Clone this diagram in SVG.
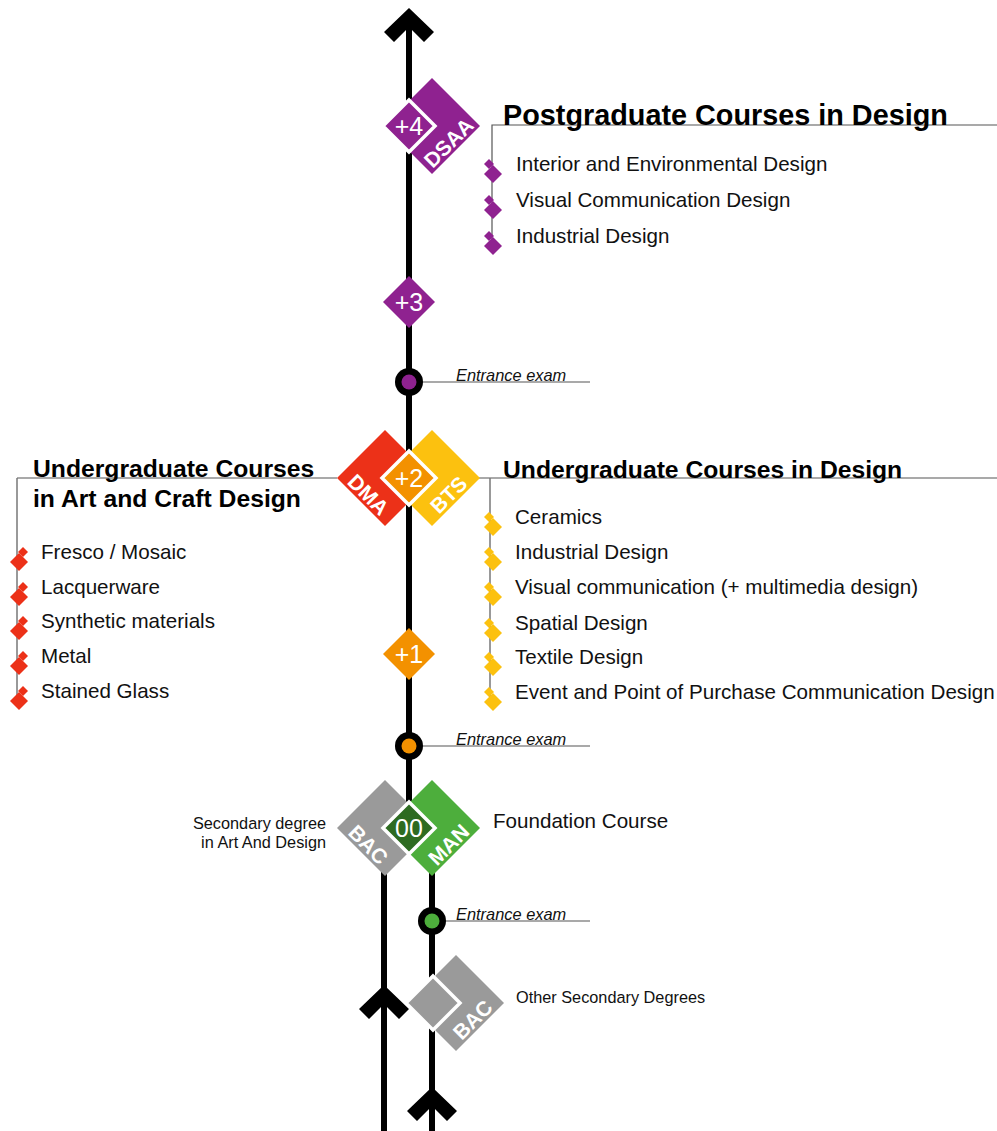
<svg xmlns="http://www.w3.org/2000/svg" xmlns:xlink="http://www.w3.org/1999/xlink" width="997" height="1131" viewBox="0 0 997 1131">
<style>
.rail{stroke:#000;stroke-width:6;fill:none}
.thin{stroke:#555;stroke-width:1.2;fill:none}
.lead{stroke:#777;stroke-width:1.5;fill:none}
.small{stroke:#fff;stroke-width:3.5}
.num{font-family:"Liberation Sans",Arial,sans-serif;font-size:25px;fill:#fff;text-anchor:middle}
.tag{font-family:"Liberation Sans",Arial,sans-serif;font-size:21px;font-weight:bold;fill:#fff;text-anchor:middle}
.h1{font-family:"Liberation Sans",Arial,sans-serif;font-size:28.8px;font-weight:bold;fill:#000}
.h2{font-family:"Liberation Sans",Arial,sans-serif;font-size:24.7px;font-weight:bold;fill:#000}
.item{font-family:"Liberation Sans",Arial,sans-serif;font-size:20.6px;fill:#111}
.lab{font-family:"Liberation Sans",Arial,sans-serif;font-size:16.3px;fill:#111}
.exam{font-family:"Liberation Sans",Arial,sans-serif;font-size:16.4px;font-style:italic;fill:#111}
.purple{fill:#8f2290}.red{fill:#ec3118}.yellow{fill:#fcc10f}.orange{fill:#f39100}.grey{fill:#9a9a9a}.green{fill:#4dae3c}.dgreen{fill:#2e6b21}
</style>
<defs>
<g id="ic">
<path d="M-3,-12 L2,-7 L-3,-2 L-8,-7 Z" fill="currentColor"/>
<path d="M1,-6 L10,3 L1,12 L-8,3 Z" fill="currentColor"/>
</g>
<path id="chev" d="M0,0 L25,24 L15,34 L0,19 L-15,34 L-25,24 Z" fill="#000"/>
</defs>

<g id="connectors">
<line class="rail" x1="409" y1="20" x2="409" y2="810"/>
<line class="rail" x1="384" y1="850" x2="384" y2="1131"/>
<line class="rail" x1="432" y1="850" x2="432" y2="1131"/>
<use xlink:href="#chev" x="409" y="8"/>
<use xlink:href="#chev" x="384" y="985"/>
<use xlink:href="#chev" x="432" y="1087"/>
<line class="thin" x1="409" y1="382" x2="590" y2="382"/>
<line class="thin" x1="409" y1="746" x2="590" y2="746"/>
<line class="thin" x1="432" y1="921" x2="590" y2="921"/>
<polyline class="thin" points="997,125 492,125 492,245"/>
<polyline class="thin" points="997,478 478,478"/>
<line class="lead" x1="490" y1="478" x2="490" y2="705"/>
<polyline class="thin" points="337,478 17,478"/>
<line class="lead" x1="17" y1="478" x2="17" y2="705"/>
</g>

<g id="node-dsaa">
<path class="purple" d="M432,78 L480,126 L432,174 L384,126 Z"/>
<path class="purple small" d="M409,100 L435,126 L409,152 L383,126 Z"/>
<text class="num" x="409" y="135">+4</text>
<text class="tag" transform="translate(456,150) rotate(-45)" y="-3">DSAA</text>
</g>

<g id="node-postgrad">
<text class="h1" x="503" y="125">Postgraduate Courses in Design</text>
<use xlink:href="#ic" x="492" y="171" color="#8f2290"/>
<use xlink:href="#ic" x="492" y="207" color="#8f2290"/>
<use xlink:href="#ic" x="492" y="243" color="#8f2290"/>
<text class="item" x="516" y="171">Interior and Environmental Design</text>
<text class="item" x="516" y="207">Visual Communication Design</text>
<text class="item" x="516" y="243">Industrial Design</text>
</g>

<g id="node-plus3">
<path class="purple" d="M409,276 L435,302 L409,328 L383,302 Z"/>
<text class="num" x="409" y="311">+3</text>
</g>

<g id="node-exam1">
<circle cx="409" cy="382" r="14" fill="#000"/>
<circle cx="409" cy="382" r="7.5" class="purple"/>
<text class="exam" x="456" y="381">Entrance exam</text>
</g>

<g id="node-plus2">
<path class="yellow" d="M432,430 L480,478 L432,526 L384,478 Z"/>
<path class="red" d="M385,430 L433,478 L385,526 L337,478 Z"/>
<path class="orange small" d="M409,451 L436,478 L409,505 L382,478 Z"/>
<text class="num" x="409" y="487">+2</text>
<text class="tag" transform="translate(361,502) rotate(45)" y="-3">DMA</text>
<text class="tag" transform="translate(456,502) rotate(-45)" y="-3">BTS</text>
</g>

<g id="node-undergrad-design">
<text class="h2" x="503" y="478">Undergraduate Courses in Design</text>
<use xlink:href="#ic" x="492" y="524" color="#fcc10f"/>
<use xlink:href="#ic" x="492" y="559" color="#fcc10f"/>
<use xlink:href="#ic" x="492" y="594" color="#fcc10f"/>
<use xlink:href="#ic" x="492" y="630" color="#fcc10f"/>
<use xlink:href="#ic" x="492" y="664" color="#fcc10f"/>
<use xlink:href="#ic" x="492" y="699" color="#fcc10f"/>
<text class="item" x="515" y="524">Ceramics</text>
<text class="item" x="515" y="559">Industrial Design</text>
<text class="item" x="515" y="594">Visual communication (+ multimedia design)</text>
<text class="item" x="515" y="630">Spatial Design</text>
<text class="item" x="515" y="664">Textile Design</text>
<text class="item" x="515" y="699">Event and Point of Purchase Communication Design</text>
</g>

<g id="node-undergrad-art">
<text class="h2" x="33" y="477">Undergraduate Courses</text>
<text class="h2" x="33" y="507">in Art and Craft Design</text>
<use xlink:href="#ic" transform="translate(20,559) scale(-1,1)" color="#ec3118"/>
<use xlink:href="#ic" transform="translate(20,594) scale(-1,1)" color="#ec3118"/>
<use xlink:href="#ic" transform="translate(20,628) scale(-1,1)" color="#ec3118"/>
<use xlink:href="#ic" transform="translate(20,663) scale(-1,1)" color="#ec3118"/>
<use xlink:href="#ic" transform="translate(20,698) scale(-1,1)" color="#ec3118"/>
<text class="item" x="41" y="559">Fresco / Mosaic</text>
<text class="item" x="41" y="594">Lacquerware</text>
<text class="item" x="41" y="628">Synthetic materials</text>
<text class="item" x="41" y="663">Metal</text>
<text class="item" x="41" y="698">Stained Glass</text>
</g>

<g id="node-plus1">
<path class="orange" d="M409,628 L435,654 L409,680 L383,654 Z"/>
<text class="num" x="409" y="663">+1</text>
</g>

<g id="node-exam2">
<circle cx="409" cy="746" r="14" fill="#000"/>
<circle cx="409" cy="746" r="7.5" class="orange"/>
<text class="exam" x="456" y="745">Entrance exam</text>
</g>

<g id="node-foundation">
<path class="green" d="M432,780 L480,828 L432,876 L384,828 Z"/>
<path class="grey" d="M385,780 L433,828 L385,876 L337,828 Z"/>
<path class="dgreen small" d="M409,802 L435,828 L409,854 L383,828 Z"/>
<text class="num" x="409" y="837">00</text>
<text class="tag" transform="translate(361,852) rotate(45)" y="-3">BAC</text>
<text class="tag" transform="translate(456,852) rotate(-45)" y="-3">MAN</text>
<text class="lab" x="326" y="829" text-anchor="end">Secondary degree</text>
<text class="lab" x="326" y="848" text-anchor="end">in Art And Design</text>
<text class="item" x="493" y="828">Foundation Course</text>
</g>

<g id="node-exam3">
<circle cx="432" cy="921" r="14" fill="#000"/>
<circle cx="432" cy="921" r="7.5" class="green"/>
<text class="exam" x="456" y="920">Entrance exam</text>
</g>

<g id="node-otherbac">
<path class="grey" d="M456,955 L504,1003 L456,1051 L408,1003 Z"/>
<path class="grey small" d="M433,976 L460,1003 L433,1030 L406,1003 Z"/>
<text class="tag" transform="translate(480,1027) rotate(-45)" y="-3">BAC</text>
<text class="lab" x="516" y="1003">Other Secondary Degrees</text>
</g>
</svg>
